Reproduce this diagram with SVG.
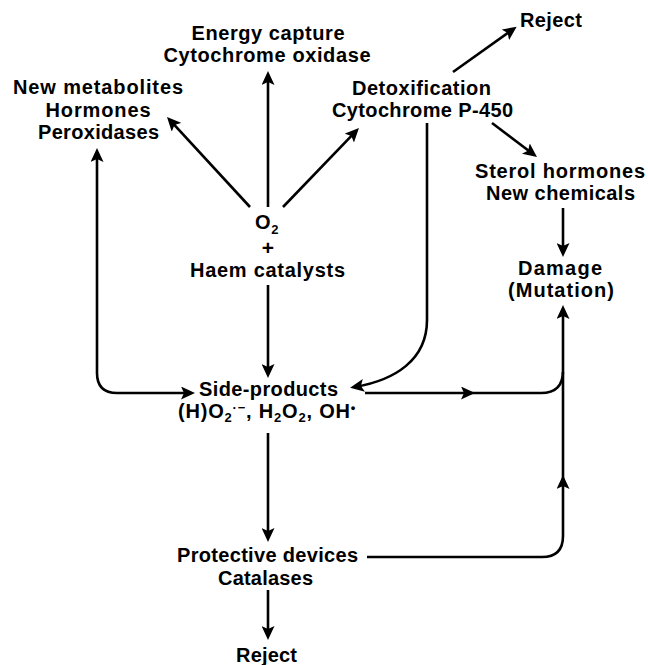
<svg xmlns="http://www.w3.org/2000/svg" width="648" height="665" viewBox="0 0 648 665">
  <style>
    .t { font-family: "Liberation Sans", Arial, sans-serif; font-weight: bold; font-size: 20px; fill: #000; text-anchor: middle; }
    .s { font-size: 13px; }
    .c { fill: none; stroke: #000; stroke-width: 2.6; stroke-linejoin: round; }
    .a { marker-end: url(#ah); }
  </style>
  <defs>
    <marker id="ah" markerUnits="userSpaceOnUse" markerWidth="15" markerHeight="13" refX="9" refY="6.5" orient="auto-start-reverse" viewBox="0 0 15 13">
      <path d="M0,0 L14,6.5 L0,13 L3,6.5 z" fill="#000"/>
    </marker>
  </defs>
  <rect width="648" height="665" fill="#fff"/>

  <!-- connectors -->
  <g id="connectors">
    <!-- from O2 + haem catalysts -->
    <path class="c a" d="M268,207 V76"/>
    <path class="c a" d="M250,207 L170.4,120.7"/>
    <path class="c a" d="M283,207 L355.5,131.6"/>
    <path class="c a" d="M268,285 V373"/>
    <!-- from detoxification -->
    <path class="c a" d="M453,72 L512.6,29.6"/>
    <path class="c a" d="M492,123 L533,154"/>
    <path class="c a" d="M427,123 V320 C427,360 395,380 355,387"/>
    <!-- sterol hormones to damage -->
    <path class="c a" d="M563,208 V252"/>
    <!-- two-way link between peroxidases and side-products -->
    <path class="c a" style="marker-start:url(#ah)" d="M97,153 V373 Q97,393 117,393 H190"/>
    <!-- side-products to damage -->
    <path class="c a" d="M365,393 H470"/>
    <path class="c a" d="M468,393 H541 Q563,393 563,371 V310"/>
    <!-- side-products to protective devices, then reject -->
    <path class="c a" d="M268,433 V537"/>
    <path class="c a" d="M268,590 V635"/>
    <!-- protective devices to damage -->
    <path class="c a" d="M367,557 H542 Q563,557 563,536 V480"/>
    <path class="c" d="M563,482 V372"/>
  </g>

  <g id="energy">
    <text class="t" x="268" y="40" textLength="153" lengthAdjust="spacing">Energy capture</text>
    <text class="t" x="267" y="62" textLength="207" lengthAdjust="spacing">Cytochrome oxidase</text>
  </g>
  <g id="metabolites">
    <text class="t" x="98" y="94" textLength="170" lengthAdjust="spacing">New metabolites</text>
    <text class="t" x="98" y="117" textLength="105" lengthAdjust="spacing">Hormones</text>
    <text class="t" x="98.5" y="139" textLength="121" lengthAdjust="spacing">Peroxidases</text>
  </g>
  <g id="reject-top">
    <text class="t" x="551" y="27" textLength="62" lengthAdjust="spacing">Reject</text>
  </g>
  <g id="detox">
    <text class="t" x="421.5" y="95" textLength="139" lengthAdjust="spacing">Detoxification</text>
    <text class="t" x="422.5" y="117" textLength="181" lengthAdjust="spacing">Cytochrome P-450</text>
  </g>
  <g id="sterol">
    <text class="t" x="560" y="178" textLength="170" lengthAdjust="spacing">Sterol hormones</text>
    <text class="t" x="560.5" y="200" textLength="149" lengthAdjust="spacing">New chemicals</text>
  </g>
  <g id="oxygen">
    <text class="t" x="267" y="229" style="letter-spacing:0.5px">O<tspan class="s" dy="5">2</tspan></text>
    <text class="t" x="268" y="255" style="font-size:21px">+</text>
    <text class="t" x="267.5" y="277" textLength="155" lengthAdjust="spacing">Haem catalysts</text>
  </g>
  <g id="damage">
    <text class="t" x="560" y="275" textLength="84" lengthAdjust="spacing">Damage</text>
    <text class="t" x="561" y="297" textLength="106" lengthAdjust="spacing">(Mutation)</text>
  </g>
  <g id="side-products">
    <text class="t" x="268.5" y="396" textLength="139" lengthAdjust="spacing">Side-products</text>
    <text class="t" x="178" y="418" style="text-anchor:start;letter-spacing:0.8px">(H)O<tspan class="s" dy="4">2</tspan><tspan class="s" dy="-10">·−</tspan><tspan dy="6">, H</tspan><tspan class="s" dy="4">2</tspan><tspan dy="-4">O</tspan><tspan class="s" dy="4">2</tspan><tspan dy="-4">, OH</tspan><tspan class="s" dy="-6">•</tspan></text>
  </g>
  <g id="protective">
    <text class="t" x="267.5" y="562" textLength="181" lengthAdjust="spacing">Protective devices</text>
    <text class="t" x="265.5" y="585" textLength="95" lengthAdjust="spacing">Catalases</text>
  </g>
  <g id="reject-bottom">
    <text class="t" x="266.5" y="662" textLength="61" lengthAdjust="spacing">Reject</text>
  </g>
</svg>
